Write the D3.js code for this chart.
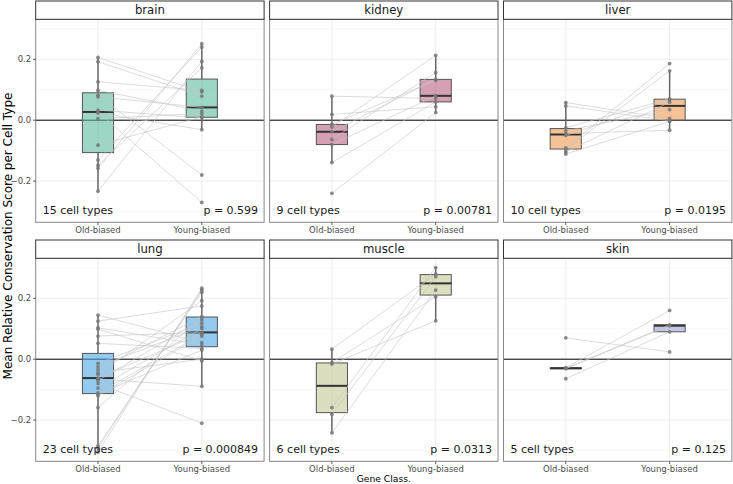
<!DOCTYPE html>
<html>
<head>
<meta charset="utf-8">
<script src="https://cdn.jsdelivr.net/npm/d3@7"></script>
<style>
  body { margin: 0; background: #fff; }
  svg { font-family: "DejaVu Sans", sans-serif; }
</style>
</head>
<body>
<svg id="chart" width="733" height="484"></svg>
<script>
const tissues = ["brain", "kidney", "liver", "lung", "muscle", "skin"];
const pValues = ["0.599", "0.00781", "0.0195", "0.000849", "0.0313", "0.125"];
const geneClasses = ["Old-biased", "Young-biased"];
const yTicks = [-0.2, 0, 0.2];
const yMinor = [-0.3, -0.1, 0.1, 0.3];

// index i in the Old array is the same cell type as index i in the Young array
const brainOld    = [0.206, 0.192, 0.126, 0.098, 0.082, 0.077, 0.033, 0.027, 0.024, 0.005, -0.082, -0.131, -0.148, -0.158, -0.233];
const brainYoung  = [0.093, 0.079, 0.098, 0.030, -0.180, 0.042, 0.008, -0.270, -0.031, 0.022, 0.011, 0.240, 0.172, 0.251, 0.193];
const kidneyOld   = [0.079, 0.019, -0.014, -0.022, -0.038, -0.063, -0.080, -0.139, -0.240];
const kidneyYoung = [0.071, 0.044, 0.131, 0.213, 0.134, 0.156, 0.080, 0.060, 0.025];
const liverOld    = [0.058, 0.047, -0.025, -0.035, -0.044, -0.050, -0.091, -0.096, -0.104, -0.111];
const liverYoung  = [0.006, -0.002, 0.070, 0.035, -0.033, 0.066, 0.186, 0.162, 0.059, -0.004];
const lungOld     = [0.145, 0.125, 0.103, 0.099, 0.076, 0.052, -0.014, -0.025, -0.034, -0.044, -0.050, -0.062,
                     -0.065, -0.070, -0.080, -0.095, -0.111, -0.115, -0.120, -0.159, -0.285, -0.292, -0.305];
const lungYoung   = [0.054, 0.175, 0.047, -0.005, 0.088, 0.035, 0.118, 0.107, 0.140, 0.000, 0.192, 0.085,
                     -0.089, 0.129, -0.210, 0.101, 0.081, 0.030, 0.076, 0.137, 0.220, 0.227, 0.233];
const muscleOld   = [0.033, -0.011, -0.016, -0.159, -0.181, -0.242];
const muscleYoung = [0.280, 0.205, 0.126, 0.301, 0.271, 0.227];
const skinOld     = [0.070, -0.028, -0.030, -0.031, -0.064];
const skinYoung   = [0.024, 0.160, 0.113, 0.110, 0.090];

const boxColors = ["#5dbb9e", "#bb6182", "#ee9953", "#4da7e6", "#c5c896", "#9e9ed5"];

const series = {
  brain: [brainOld, brainYoung],
  kidney: [kidneyOld, kidneyYoung],
  liver: [liverOld, liverYoung],
  lung: [lungOld, lungYoung],
  muscle: [muscleOld, muscleYoung],
  skin: [skinOld, skinYoung]
};

const svg = d3.select("#chart");
const left = 35.7, panelW = 228.4, gapX = 5.5, stripH = 18.3, panelH = 203;
const rowTops = [1, 240];

const allVals = tissues.flatMap(t => series[t][0].concat(series[t][1]));
const [lo, hi] = d3.extent(allVals);
const pad = (hi - lo) * 0.05;

const x = d3.scalePoint().domain(geneClasses).range([0, panelW]).padding(0.6);
const boxW = x.step() * 0.3;

function boxStats(values) {
  const s = values.slice().sort(d3.ascending);
  const q1 = d3.quantile(s, 0.25), med = d3.quantile(s, 0.5), q3 = d3.quantile(s, 0.75);
  const iqr = q3 - q1;
  const lowW = d3.min(s.filter(v => v >= q1 - 1.5 * iqr));
  const highW = d3.max(s.filter(v => v <= q3 + 1.5 * iqr));
  return { q1, med, q3, lowW, highW };
}

tissues.forEach((tissue, i) => {
  const col = i % 3, row = Math.floor(i / 3);
  const px = left + col * (panelW + gapX);
  const stripTop = rowTops[row];
  const py = stripTop + stripH;
  const y = d3.scaleLinear().domain([lo - pad, hi + pad]).range([panelH, 0]);

  const g = svg.append("g").attr("transform", `translate(${px},${py})`);

  // grid
  g.selectAll(".minor").data(yMinor).enter().append("line")
    .attr("x1", 0).attr("x2", panelW)
    .attr("y1", d => y(d)).attr("y2", d => y(d))
    .attr("stroke", "#f4f4f4").attr("stroke-width", 0.6);
  g.selectAll(".major").data(yTicks).enter().append("line")
    .attr("x1", 0).attr("x2", panelW)
    .attr("y1", d => y(d)).attr("y2", d => y(d))
    .attr("stroke", "#ebebeb").attr("stroke-width", 0.9);
  g.selectAll(".vmajor").data(geneClasses).enter().append("line")
    .attr("x1", d => x(d)).attr("x2", d => x(d))
    .attr("y1", 0).attr("y2", panelH)
    .attr("stroke", "#ebebeb").attr("stroke-width", 0.9);

  // zero line
  g.append("line")
    .attr("x1", 0).attr("x2", panelW)
    .attr("y1", y(0)).attr("y2", y(0))
    .attr("stroke", "#000").attr("stroke-width", 1);

  const [oldVals, youngVals] = series[tissue];

  // boxplots
  [oldVals, youngVals].forEach((vals, k) => {
    const st = boxStats(vals);
    const cx = x(geneClasses[k]);
    g.append("line")
      .attr("x1", cx).attr("x2", cx)
      .attr("y1", y(st.q3)).attr("y2", y(st.highW))
      .attr("stroke", "#666").attr("stroke-width", 1.5);
    g.append("line")
      .attr("x1", cx).attr("x2", cx)
      .attr("y1", y(st.q1)).attr("y2", y(st.lowW))
      .attr("stroke", "#666").attr("stroke-width", 1.5);
    g.append("rect")
      .attr("x", cx - boxW / 2).attr("width", boxW)
      .attr("y", y(st.q3)).attr("height", Math.max(0, y(st.q1) - y(st.q3)))
      .attr("fill", boxColors[i]).attr("fill-opacity", 0.6)
      .attr("stroke", "#555").attr("stroke-width", 1);
    g.append("line")
      .attr("x1", cx - boxW / 2).attr("x2", cx + boxW / 2)
      .attr("y1", y(st.med)).attr("y2", y(st.med))
      .attr("stroke", "#333").attr("stroke-width", 2);
  });

  // paired lines
  g.selectAll(".pair").data(d3.zip(oldVals, youngVals)).enter().append("line")
    .attr("x1", x(geneClasses[0])).attr("x2", x(geneClasses[1]))
    .attr("y1", d => y(d[0])).attr("y2", d => y(d[1]))
    .attr("stroke", "#c4c4c4").attr("stroke-width", 0.6);

  // points
  [oldVals, youngVals].forEach((vals, k) => {
    g.selectAll(".pt" + k).data(vals).enter().append("circle")
      .attr("cx", x(geneClasses[k])).attr("cy", d => y(d))
      .attr("r", 1.9)
      .attr("fill", "#777").attr("fill-opacity", 0.85);
  });

  // annotations
  g.append("text")
    .attr("x", 7).attr("y", panelH - 8.3)
    .attr("font-size", "11px").attr("fill", "#1a1a1a")
    .text(`${oldVals.length} cell types`);
  g.append("text")
    .attr("x", panelW - 6).attr("y", panelH - 8.3)
    .attr("text-anchor", "end")
    .attr("font-size", "11px").attr("fill", "#1a1a1a")
    .text(`p = ${pValues[i]}`);

  // panel border
  g.append("rect")
    .attr("x", 0).attr("y", 0).attr("width", panelW).attr("height", panelH)
    .attr("fill", "none").attr("stroke", "#888").attr("stroke-width", 1);

  // strip
  svg.append("rect")
    .attr("x", px).attr("y", stripTop).attr("width", panelW).attr("height", stripH)
    .attr("fill", "#fff").attr("stroke", "#333").attr("stroke-width", 1);
  svg.append("text")
    .attr("x", px + panelW / 2).attr("y", stripTop + stripH / 2)
    .attr("dy", "0.35em").attr("text-anchor", "middle")
    .attr("font-size", "11.7px").attr("fill", "#1a1a1a")
    .text(tissue);

  // x axis
  const xa = g.append("g").attr("transform", `translate(0,${panelH})`);
  xa.selectAll("line").data(geneClasses).enter().append("line")
    .attr("x1", d => x(d)).attr("x2", d => x(d))
    .attr("y1", 0).attr("y2", 2.7)
    .attr("stroke", "#333").attr("stroke-width", 0.8);
  xa.selectAll("text").data(geneClasses).enter().append("text")
    .attr("x", d => x(d)).attr("y", 10.5)
    .attr("text-anchor", "middle")
    .attr("font-size", "8.5px").attr("fill", "#4d4d4d")
    .text(d => d);

  // y axis on left column
  if (col === 0) {
    const ya = g.append("g");
    ya.selectAll("line").data(yTicks).enter().append("line")
      .attr("x1", -2.7).attr("x2", 0)
      .attr("y1", d => y(d)).attr("y2", d => y(d))
      .attr("stroke", "#333").attr("stroke-width", 0.8);
    ya.selectAll("text").data(yTicks).enter().append("text")
      .attr("x", -4.5).attr("y", d => y(d))
      .attr("dy", "0.35em").attr("text-anchor", "end")
      .attr("font-size", "8.5px").attr("fill", "#4d4d4d")
      .text(d => d3.format(".1f")(d));
  }
});

// axis titles
svg.append("text")
  .attr("x", left + (3 * panelW + 2 * gapX) / 2).attr("y", 481.5)
  .attr("text-anchor", "middle")
  .attr("font-size", "9.2px").attr("fill", "#000")
  .text("Gene Class.");

svg.append("text")
  .attr("transform", `translate(11.5,236) rotate(-90)`)
  .attr("text-anchor", "middle")
  .attr("font-size", "12px").attr("fill", "#000")
  .text("Mean Relative Conservation Score per Cell Type");
</script>
</body>
</html>
